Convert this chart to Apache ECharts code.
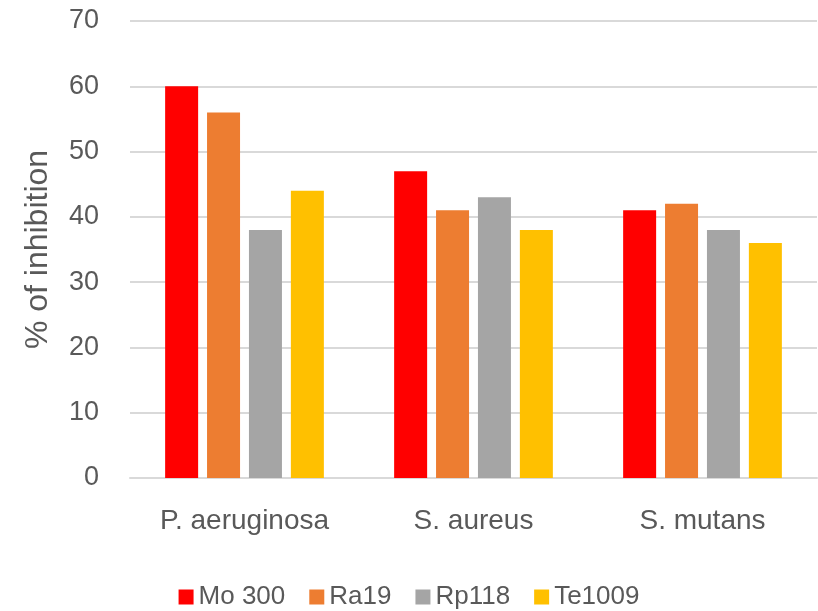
<!DOCTYPE html>
<head>
    <meta charset="utf-8">
    <title>ECharts</title>
</head>
<body style="margin:0">
    <div id="main" style="width:818px;height:611px"></div>
    <script src="https://cdn.jsdelivr.net/npm/echarts@6/dist/echarts.min.js"></script>
    <script type="text/javascript">
var myChart = echarts.init(document.getElementById('main'));

var categories = ['P. aeruginosa', 'S. aureus', 'S. mutans'];
var seriesNames = ['Mo 300', 'Ra19', 'Rp118', 'Te1009'];
var mo300 = [60, 47, 41];
var ra19 = [56, 41, 42];
var rp118 = [38, 43, 38];
var te1009 = [44, 38, 36];
var colors = ['#FF0000', '#ED7D31', '#A5A5A5', '#FFC000'];

var font = 'Liberation Sans, Arial, sans-serif';
var values = [mo300, ra19, rp118, te1009];

myChart.setOption({
    animation: false,
    textStyle: { fontFamily: font },
    grid: { left: 130, right: 1, top: 21, bottom: 133 },
    legend: {
        bottom: -4,
        itemWidth: 15,
        itemHeight: 15,
        itemGap: 24,
        icon: 'rect',
        textStyle: { fontSize: 26, color: '#595959', fontFamily: font },
        data: seriesNames
    },
    xAxis: {
        type: 'category',
        data: categories,
        axisTick: { show: false },
        axisLine: { lineStyle: { color: '#D9D9D9', width: 2 } },
        axisLabel: { fontSize: 28, color: '#595959', margin: 29 }
    },
    yAxis: {
        type: 'value',
        min: 0,
        max: 70,
        interval: 10,
        name: '% of inhibition',
        nameLocation: 'middle',
        nameGap: 76,
        nameTextStyle: { fontSize: 32, color: '#595959' },
        axisLine: { show: false },
        axisTick: { show: false },
        splitLine: { lineStyle: { color: '#D9D9D9', width: 2 } },
        axisLabel: { fontSize: 27, color: '#595959', margin: 31 }
    },
    series: values.map(function (v, i) {
        return {
            name: seriesNames[i],
            type: 'bar',
            data: v,
            barWidth: 33,
            barGap: '27%',
            itemStyle: { color: colors[i] }
        };
    })
});
    </script>
</body>
